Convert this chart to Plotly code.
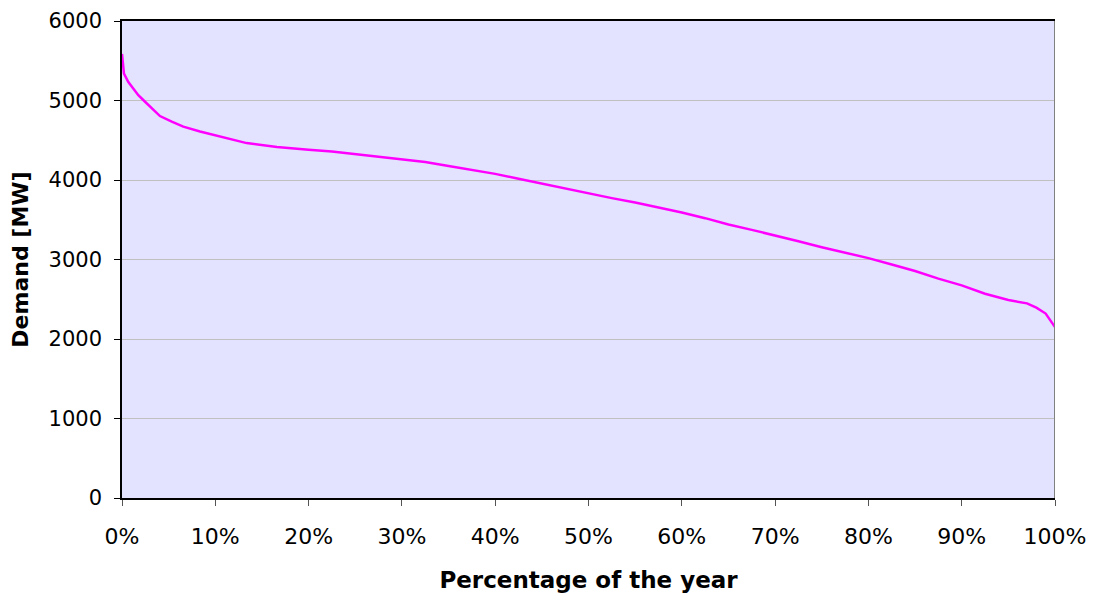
import plotly.graph_objects as go

# Percentage of the year (x) and demand in MW (y)
pct_of_year = [0.0, 0.14, 0.21, 0.68, 1.21, 1.75, 2.47, 3.36, 4.07, 5.33, 6.57, 8.36,
               10.5, 13.36, 16.6, 18.7, 20.0, 22.5, 25.0, 27.5, 30.0, 32.5, 35.0, 37.5,
               40.0, 42.5, 45.0, 47.5, 50.0, 52.5, 55.0, 57.5, 60.0, 62.5, 65.0, 67.5,
               70.0, 72.5, 75.0, 77.5, 80.0, 82.5, 85.0, 87.5, 90.0, 92.5, 95.0, 97.0,
               98.0, 99.0, 100.0]
demand_mw = [5586, 5440, 5337, 5233, 5150, 5066, 4984, 4879, 4804, 4734, 4672, 4610,
             4550, 4464, 4414, 4389, 4380, 4358, 4327, 4296, 4264, 4225, 4177, 4130,
             4077, 4015, 3953, 3890, 3828, 3772, 3716, 3655, 3591, 3520, 3441, 3373,
             3304, 3230, 3155, 3087, 3017, 2938, 2855, 2760, 2675, 2570, 2490, 2448,
             2394, 2320, 2150]

x_ticks = [0, 10, 20, 30, 40, 50, 60, 70, 80, 90, 100]
x_tick_labels = ["0%", "10%", "20%", "30%", "40%", "50%", "60%", "70%", "80%", "90%", "100%"]
y_ticks = [0, 1000, 2000, 3000, 4000, 5000, 6000]

fig = go.Figure()
fig.add_trace(go.Scatter(x=pct_of_year, y=demand_mw, mode="lines",
                         line=dict(color="#FF00FF", width=2.5), showlegend=False))

font_family = "DejaVu Sans"
fig.update_layout(
    width=1097, height=601,
    margin=dict(l=114, r=50, t=13, b=111, autoexpand=False),
    paper_bgcolor="white",
    plot_bgcolor="#E3E3FF",
    font=dict(family=font_family, size=22, color="black"),
    xaxis=dict(range=[0, 100], tickvals=x_ticks, ticktext=x_tick_labels,
               showgrid=False, zeroline=False,
               showline=True, linecolor="black", linewidth=1.5, mirror=True,
               ticks="outside", ticklen=6, tickcolor="#555555",
               ticklabelstandoff=12, ticklabeloverflow="allow",
               title=dict(text="<b>Percentage of the year</b>",
                          font=dict(family=font_family, size=23), standoff=24)),
    yaxis=dict(range=[0, 6000], tickvals=y_ticks,
               tickfont=dict(family=font_family, size=21),
               showgrid=True, gridcolor="#C0C0C0", gridwidth=1, zeroline=False,
               showline=True, linecolor="black", linewidth=1.5,
               ticks="outside", ticklen=6, tickcolor="black",
               ticklabelstandoff=8, ticklabeloverflow="allow",
               title=dict(text="<b>Demand [MW]</b>",
                          font=dict(family=font_family, size=22), standoff=16)),
)
# grey right border of the plot area
fig.add_shape(type="line", xref="x", yref="paper", x0=100, x1=100, y0=0, y1=1,
              line=dict(color="#808080", width=2))

fig.write_html("out.html")
